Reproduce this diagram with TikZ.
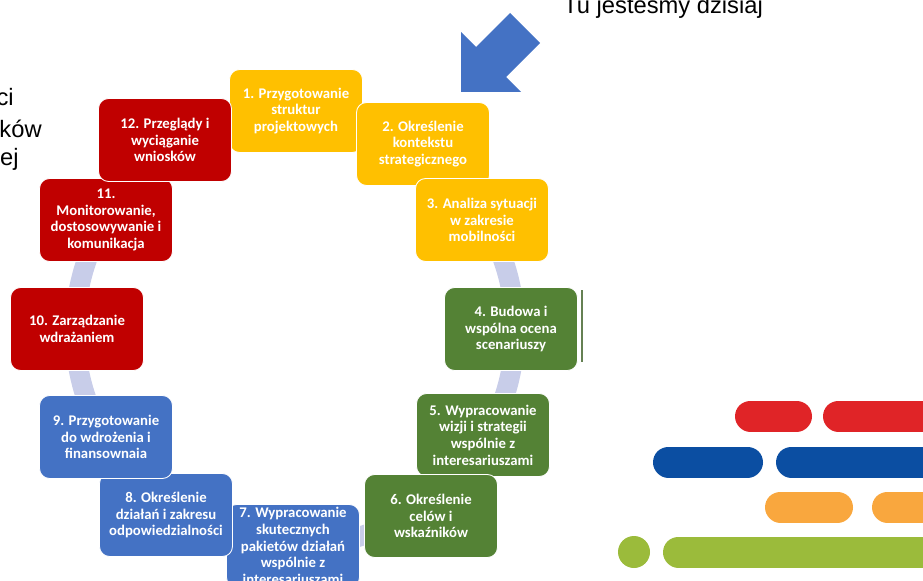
\documentclass[tikz,border=0pt]{standalone}
\usepackage{fontspec}
\setmainfont{Liberation Sans}
\newfontfamily\krokfont{Carlito}

\definecolor{zolty}{HTML}{FFC000}
\definecolor{czerwony}{HTML}{C00000}
\definecolor{zielony}{HTML}{548235}
\definecolor{niebieski}{HTML}{4472C4}
\definecolor{obwod}{HTML}{C8CDE9}
\definecolor{pasekR}{HTML}{E02427}
\definecolor{pasekB}{HTML}{0B4EA2}
\definecolor{pasekO}{HTML}{F9A73E}
\definecolor{pasekG}{HTML}{9BBB3B}

\tikzset{
  krok/.style={rounded corners=0.2cm, draw=white, line width=0.5pt,
    minimum width=2.66cm, minimum height=1.66cm, inner sep=1pt,
    text=white, align=center,
    font=\krokfont\bfseries\fontsize{8.4}{9.5}\selectfont},
  pasek/.style={line width=0.62cm, line cap=round},
  napis/.style={font=\fontsize{13.5}{15}\selectfont, inner sep=0pt}
}

\begin{document}
\begin{tikzpicture}[x=0.02cm, y=-0.02cm]
\useasboundingbox (0, 0) rectangle (923, 581);
\clip (0, 0) rectangle (923, 581);

% ring behind the steps
\draw [obwod, line width=0.4cm] (295, 330) ellipse [x radius=220, y radius=216];

\node (k1) at (296, 111) [krok, fill=zolty] {1. Przygotowanie\\struktur\\projektowych};
\node (k2) at (423, 144) [krok, fill=zolty] {2. Określenie\\kontekstu\\strategicznego};
\node (k3) at (482, 220) [krok, fill=zolty] {3. Analiza sytuacji\\w zakresie\\mobilności};
\node (k4) at (511, 329) [krok, fill=zielony] {4. Budowa i\\wspólna ocena\\scenariuszy};
\node (k5) at (483, 435) [krok, fill=zielony] {5. Wypracowanie\\wizji i strategii\\wspólnie z\\interesariuszami};
\node (k6) at (431, 516) [krok, fill=zielony] {6. Określenie\\celów i\\wskaźników};
\node (k7) at (293, 546) [krok, fill=niebieski] {7. Wypracowanie\\skutecznych\\pakietów działań\\wspólnie z\\interesariuszami};
\node (k8) at (166, 515) [krok, fill=niebieski] {8. Określenie\\działań i zakresu\\odpowiedzialności};
\node (k9) at (106, 437) [krok, fill=niebieski] {9. Przygotowanie\\do wdrożenia i\\finansownaia};
\node (k10) at (77, 329) [krok, fill=czerwony] {10. Zarządzanie\\wdrażaniem};
\node (k11) at (106, 220) [krok, fill=czerwony] {11.\\Monitorowanie,\\dostosowywanie i\\komunikacja};
\node (k12) at (165, 140) [krok, fill=czerwony] {12. Przeglądy i\\wyciąganie\\wniosków};

%\draw [zielony!60, line width=0.8pt] (582, 290)--(582, 362);
\draw [zielony!60!gray, line width=0.8pt] (582, 290)--(582, 362);

% arrow
\fill [niebieski] (461, 32)--(476, 47)--(510, 13)--(540, 43)--(506, 77)--(521, 92)--(461, 92)--cycle;
\node (tu) at (563, 14) [napis, anchor=base west] {Tu jesteśmy dzisiaj};

% cut text on the left
\node (l1) at (14, 106) [napis, anchor=base east] {ci};
\node (l2) at (42, 137) [napis, anchor=base east] {ków};
\node (l3) at (19, 166) [napis, anchor=base east] {ej};

% bars
\draw [pasek, pasekR] (750.5, 416)--(796.5, 416);
\draw [pasek, pasekR] (838.5, 416)--(960, 416);
\draw [pasek, pasekB] (668.5, 462)--(747.5, 462);
\draw [pasek, pasekB] (791.5, 462)--(960, 462);
\draw [pasek, pasekO] (780.5, 507)--(837.5, 507);
\draw [pasek, pasekO] (887.5, 507)--(960, 507);
\fill [pasekG] (634, 552) circle [radius=16];
\draw [pasek, pasekG] (678.5, 552)--(960, 552);
\end{tikzpicture}
\end{document}
